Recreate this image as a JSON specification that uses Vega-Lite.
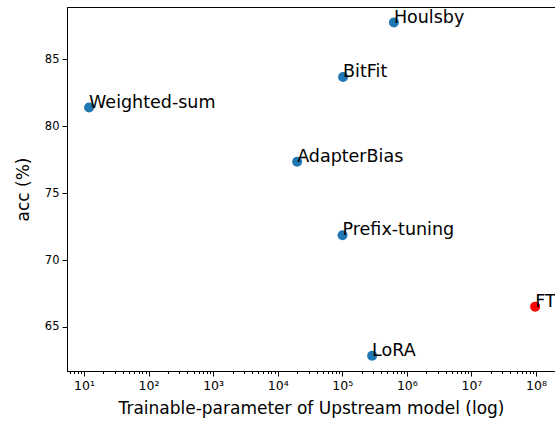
{
  "$schema": "https://vega.github.io/schema/vega-lite/v6.json",
  "autosize": "none",
  "width": 488,
  "height": 364,
  "padding": {"left": 67, "top": 7, "right": 0, "bottom": 54},
  "background": "white",
  "config": {
    "view": {"stroke": "#000000", "strokeWidth": 1},
    "font": "DejaVu Sans",
    "axis": {
      "labelFont": "DejaVu Sans",
      "titleFont": "DejaVu Sans",
      "labelColor": "#000000",
      "titleColor": "#000000",
      "tickColor": "#000000",
      "domainColor": "#000000",
      "labelFontSize": 11.5,
      "titleFontSize": 17,
      "titleFontWeight": "normal",
      "grid": false,
      "tickSize": 5,
      "labelPadding": 3
    }
  },
  "data": {
    "values": [
      {"method": "Weighted-sum", "params": 12, "acc": 81.4, "kind": "PEFT"},
      {"method": "AdapterBias", "params": 20000, "acc": 77.35, "kind": "PEFT"},
      {"method": "BitFit", "params": 103000, "acc": 83.68, "kind": "PEFT"},
      {"method": "Houlsby", "params": 630000, "acc": 87.75, "kind": "PEFT"},
      {"method": "Prefix-tuning", "params": 101000, "acc": 71.86, "kind": "PEFT"},
      {"method": "LoRA", "params": 290000, "acc": 62.85, "kind": "PEFT"},
      {"method": "FT", "params": 97000000, "acc": 66.52, "kind": "FT"}
    ]
  },
  "resolve": {"axis": {"x": "independent", "y": "independent"}},
  "layer": [
    {
      "mark": {"type": "circle", "opacity": 0},
      "encoding": {
        "x": {
          "field": "params", "type": "quantitative",
          "scale": {"type": "log", "domain": [5.46, 197000000], "nice": false},
          "axis": {
            "orient": "bottom",
            "values": [6,7,8,9,20,30,40,50,60,70,80,90,200,300,400,500,600,700,800,900,2000,3000,4000,5000,6000,7000,8000,9000,20000,30000,40000,50000,60000,70000,80000,90000,200000,300000,400000,500000,600000,700000,800000,900000,2000000,3000000,4000000,5000000,6000000,7000000,8000000,9000000,20000000,30000000,40000000,50000000,60000000,70000000,80000000,90000000],
            "labels": false, "tickSize": 2.5, "domain": false, "title": null, "grid": false
          }
        },
        "y": {
          "field": "acc", "type": "quantitative",
          "scale": {"domain": [61.71, 88.91], "nice": false, "zero": false},
          "axis": null
        }
      }
    },
    {
      "mark": {"type": "circle", "size": 100, "opacity": 1},
      "encoding": {
        "x": {
          "field": "params", "type": "quantitative",
          "scale": {"type": "log", "domain": [5.46, 197000000], "nice": false},
          "axis": {
            "orient": "bottom",
            "values": [10, 100, 1000, 10000, 100000, 1000000, 10000000, 100000000],
            "labelExpr": "'10' + ['⁰','¹','²','³','⁴','⁵','⁶','⁷','⁸','⁹'][round(log(datum.value)/LN10)]",
            "title": "Trainable-parameter of Upstream model (log)",
            "titlePadding": 9,
            "labelFontSize": 12.5
          }
        },
        "y": {
          "field": "acc", "type": "quantitative",
          "scale": {"domain": [61.71, 88.91], "nice": false, "zero": false},
          "axis": {
            "orient": "left",
            "values": [65, 70, 75, 80, 85],
            "title": "acc (%)",
            "titlePadding": 12
          }
        },
        "color": {
          "field": "kind", "type": "nominal",
          "scale": {"domain": ["PEFT", "FT"], "range": ["#1f77b4", "#ff0000"]},
          "legend": null
        }
      }
    },
    {
      "mark": {"type": "text", "align": "left", "baseline": "alphabetic", "fontSize": 17.5, "font": "DejaVu Sans", "color": "#000000"},
      "encoding": {
        "x": {"field": "params", "type": "quantitative", "scale": {"type": "log", "domain": [5.46, 197000000], "nice": false}, "axis": null},
        "y": {"field": "acc", "type": "quantitative", "scale": {"domain": [61.71, 88.91], "nice": false, "zero": false}, "axis": null},
        "text": {"field": "method"}
      }
    }
  ]
}
